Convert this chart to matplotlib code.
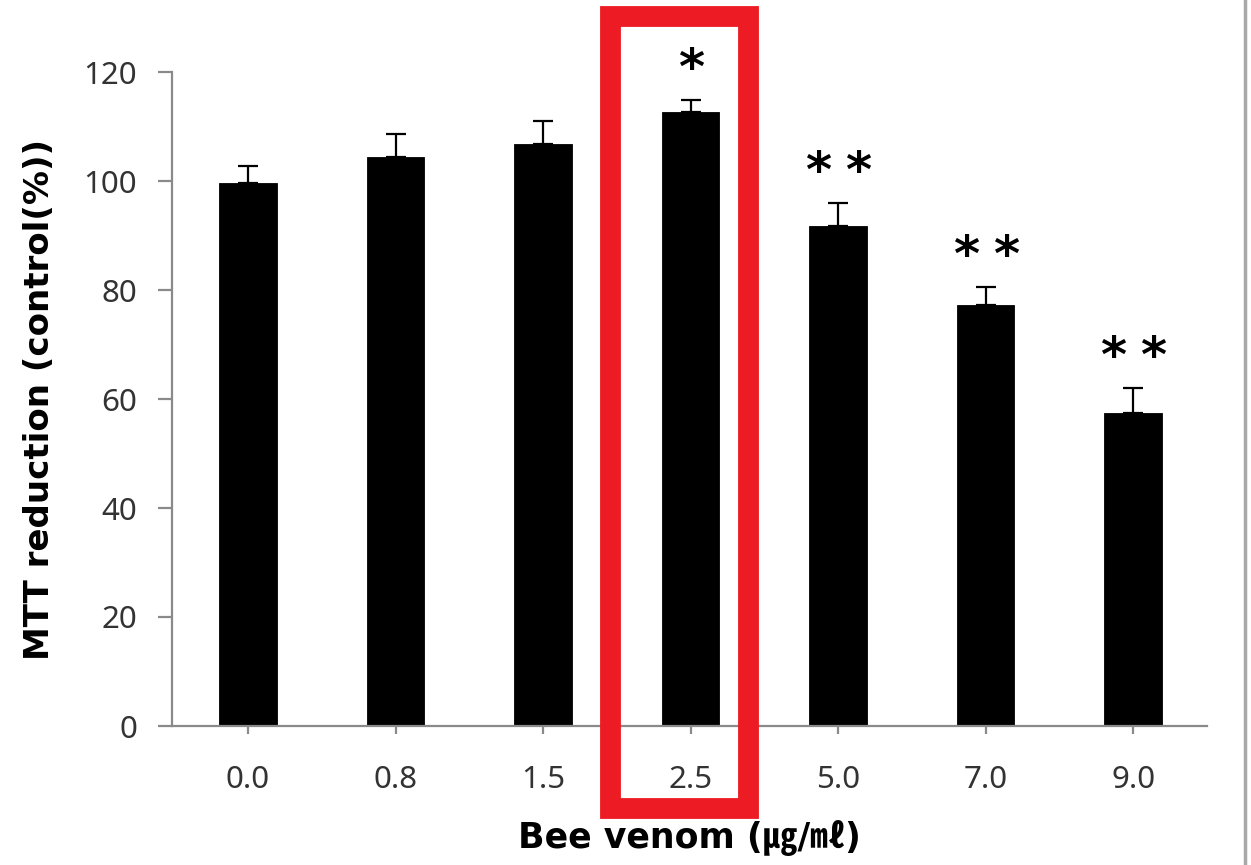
import matplotlib
matplotlib.use("Agg")
import matplotlib.pyplot as plt
from matplotlib.patches import Rectangle
from matplotlib.lines import Line2D
import numpy as np

# bee venom dose (ug/ml) vs MTT reduction, % of control
doses = ["0.0", "0.8", "1.5", "2.5", "5.0", "7.0", "9.0"]
mtt_mean = [99.6, 104.4, 106.8, 112.7, 91.7, 77.2, 57.4]
mtt_err = [3.2, 4.2, 4.2, 2.2, 4.3, 3.4, 4.6]
signif = [0, 0, 0, 1, 2, 2, 2]  # number of asterisks
highlight = "2.5"

TICK_C = "#333333"
AXIS_C = "#8a8a8a"
RED = "#ED1C24"

fig = plt.figure(figsize=(12.51, 8.65), dpi=100)
ax = fig.add_axes([172 / 1251, 139 / 865, (1207 - 172) / 1251, (726 - 72) / 865])

x = np.arange(len(doses))
ax.bar(x, mtt_mean, width=0.39, color="black", edgecolor="black", lw=0.6,
       zorder=2)
ax.errorbar(x, mtt_mean, yerr=[np.zeros(len(x)), mtt_err], fmt="none",
            ecolor="black", elinewidth=1.6, capsize=7, capthick=1.6, zorder=3)

# significance marks
for xi, m, e, n in zip(x, mtt_mean, mtt_err, signif):
    if n == 0:
        continue
    offs = [0.0] if n == 1 else [-0.135, 0.135]
    for o in offs:
        ax.text(xi + o, m + e + 5.5, "*", ha="center", va="center",
                fontsize=36, fontweight="bold", color="black")

ax.set_xlim(-0.515, 6.5)
ax.set_ylim(0, 120)
ax.set_yticks(range(0, 121, 20))
ax.set_xticks(x)
ax.set_xticklabels(doses)

for s in ("top", "right"):
    ax.spines[s].set_visible(False)
for s in ("left", "bottom"):
    ax.spines[s].set_color(AXIS_C)
    ax.spines[s].set_linewidth(1.6)
ax.tick_params(axis="y", length=10, width=1.6, color=AXIS_C, pad=15,
               labelsize=22.5, labelcolor=TICK_C)
ax.tick_params(axis="x", length=6, width=1.6, color=AXIS_C, pad=22,
               labelsize=22.5, labelcolor=TICK_C)
for lab in ax.get_xticklabels() + ax.get_yticklabels():
    lab.set_family("Noto Sans")

ax.set_ylabel("MTT reduction (control(%))", fontsize=24.5, fontweight="bold",
              family=["DejaVu Sans", "Noto Sans CJK KR"], labelpad=20)
ax.set_xlabel("Bee venom (㎍/㎖)", fontsize=25, fontweight="bold",
              family=["DejaVu Sans", "Noto Sans CJK KR"], labelpad=18)

# red highlight box around the 2.5 group
hi = doses.index(highlight)
ax.add_patch(Rectangle((hi - 0.546, -15.1), 0.932, 145.3, fill=False,
                       edgecolor=RED, lw=15, clip_on=False, zorder=5))

# window border on the right edge
fig.add_artist(Line2D([1245 / 1251, 1245 / 1251], [0, 1], color="#a8a8a8",
                      lw=2.5, transform=fig.transFigure))

fig.savefig("out.png", dpi=100)
